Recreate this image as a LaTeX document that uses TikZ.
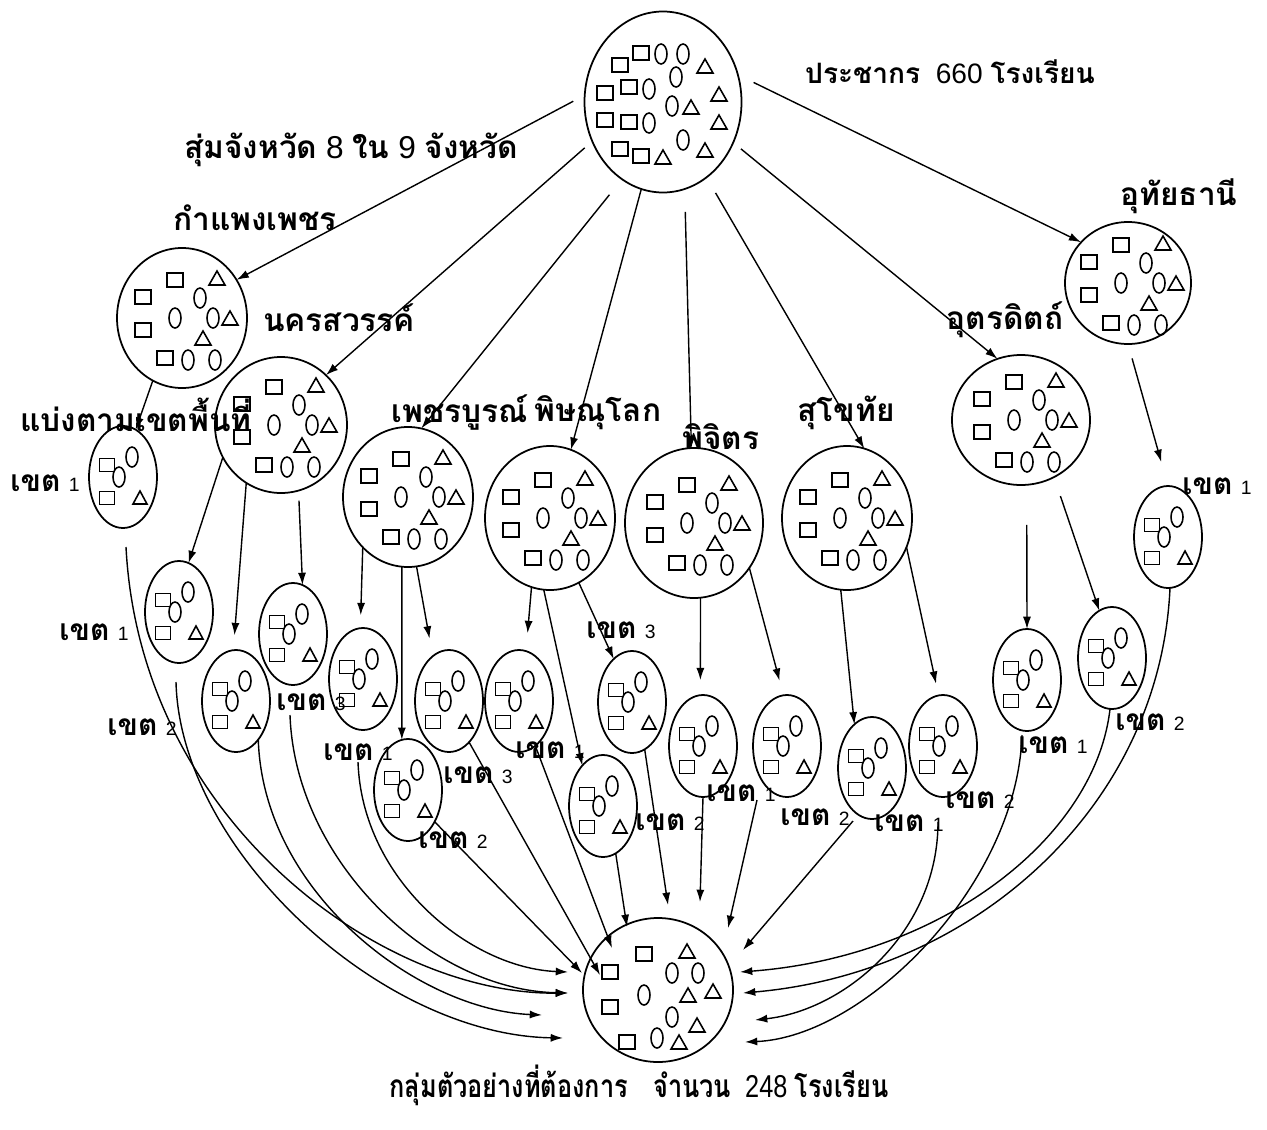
\documentclass[tikz,border=0pt]{standalone}
\usepackage{fontspec}
\setmainfont{Liberation Sans}
\newfontfamily\thai[Script=Thai]{Loma}
\usetikzlibrary{shapes.geometric,arrows.meta,calc}
\newcommand{\tb}[1]{{\thai\bfseries #1}}
\newcommand{\khet}[1]{\tb{เขต}\ {\fontsize{11}{13}\selectfont #1}}

\tikzset{
  arr/.style={-{Latex[length=7pt,width=4.6pt]}, line width=0.8pt},
  shp/.style={line width=0.9pt},
  circ/.style={ellipse, draw, line width=1pt, inner sep=0pt, outer sep=0pt},
  dims/.style 2 args={minimum width=#1*0.02cm, minimum height=#2*0.02cm},
  khetc/.style={circ, dims={68}{102}},
  lbl/.style={font=\fontsize{18}{22}\selectfont, inner sep=0pt},
  klbl/.style={font=\fontsize{17}{20}\selectfont, inner sep=0pt},
  % shapes inside the circles
  popset/.pic={
    \foreach \a/\b in {-43/-37,-22/-49,-58/-9,-34/-15,-58/18,-34/20,-43/47,-22/54}
      \draw[shp] (\a-8,\b-7) rectangle ++(16,14);
    \foreach \a/\b in {-2/-48,20/-48,13/-25,-14/-13,9/4,-14/21,20/38}
      \draw[shp] (\a,\b) ellipse [x radius=6,y radius=10];
    \foreach \a/\b in {42/-36,56/-8,28/5,56/20,0/55,42/48}
      \draw[shp] (\a-8,\b+7) -- (\a,\b-7) -- (\a+8,\b+7) -- cycle;
  },
  provset/.pic={
    \foreach \a/\b in {-7/-38,-39/-21,-39/12,-17/40}
      \draw[shp] (\a-8,\b-7) rectangle ++(16,14);
    \foreach \a/\b in {-7/0,18/-20,31/0,6/42,33/42}
      \draw[shp] (\a,\b) ellipse [x radius=6,y radius=10];
    \foreach \a/\b in {35/-40,48/0,21/20}
      \draw[shp] (\a-8,\b+7) -- (\a,\b-7) -- (\a+8,\b+7) -- cycle;
  },
  khetset/.pic={
    \foreach \a/\b in {-16/-12,-16/21}
      \draw[shp] (\a-7.5,\b-6.5) rectangle ++(15,13);
    \foreach \a/\b in {-4/0,9/-20}
      \draw[shp] (\a,\b) ellipse [x radius=6,y radius=10];
    \draw[shp] (17-7,21+6) -- (17,21-7) -- (17+7,21+6) -- cycle;
  },
  botset/.pic={
    \foreach \a/\b in {-14/-36,-48/-18,-48/17,-31/52}
      \draw[shp] (\a-8,\b-7) rectangle ++(16,14);
    \foreach \a/\b in {-14/5,14/-17,40/-17,14/27,-1/48}
      \draw[shp] (\a,\b) ellipse [x radius=6,y radius=10];
    \foreach \a/\b in {29/-39,30/5,55/1,39/35,21/52}
      \draw[shp] (\a-8,\b+7) -- (\a,\b-7) -- (\a+8,\b+7) -- cycle;
  }
}

\begin{document}
\begin{tikzpicture}[x=0.02cm,y=-0.02cm]
\useasboundingbox (0,0) rectangle (1267,1129);

% population and provinces
\node[circ, dims={157}{181}] (pop) at (663,102) {};
\node[circ, dims={130}{140}] (kpp) at (182,318) {};
\node[circ, dims={132}{136}] (nsw) at (281,425) {};
\node[circ, dims={130}{140}] (pbn) at (408,497) {};
\node[circ, dims={130}{144}] (psl) at (550,518) {};
\node[circ, dims={138}{150}] (pct) at (694,523) {};
\node[circ, dims={130}{144}] (skt) at (847,518) {};
\node[circ, dims={138}{130}] (utt) at (1021,420) {};
\node[circ, dims={126}{122}] (uty) at (1128,283) {};
\node[circ, dims={150}{144}] (bot) at (658,990) {};

% districts
\node[khetc] (kpp1) at (123,477) {};
\node[khetc] (nsw1) at (179,612) {};
\node[khetc] (nsw2) at (236,701) {};
\node[khetc] (nsw3) at (293,634) {};
\node[khetc] (pbnA) at (363,679) {};
\node[khetc] (pbnB) at (408,790) {};
\node[khetc] (pbnC) at (449,701) {};
\node[khetc] (psl1) at (519,701) {};
\node[khetc] (psl2) at (603,806) {};
\node[khetc] (psl3) at (632,702) {};
\node[khetc] (pct1) at (703,746) {};
\node[khetc] (pct2) at (787,746) {};
\node[khetc] (skt1) at (872,768) {};
\node[khetc] (skt2) at (943,746) {};
\node[khetc] (utt1) at (1027,680) {};
\node[khetc] (utt2) at (1112,658) {};
\node[khetc] (uty1) at (1168,537) {};

\pic at (pop.center) {popset};
\foreach \n in {kpp,nsw,pbn,psl,pct,skt,utt,uty}
  \pic at (\n.center) {provset};
\foreach \n in {kpp1,nsw1,nsw2,nsw3,pbnA,pbnB,pbnC,psl1,psl2,psl3,pct1,pct2,skt1,skt2,utt1,utt2,uty1}
  \pic at (\n.center) {khetset};
\pic at (bot.center) {botset};

% sampling of provinces
\draw[arr, shorten <=0.26cm] (pop.175) -- (kpp.35);
\draw[arr, shorten <=0.2cm] (pop.209) -- (nsw.48);
\draw[arr, shorten <=0.4cm] (pop.242) -- (pbn.79);
\draw[arr] (pop.256) -- (psl.73);
\draw[arr, shorten <=0.46cm] (pop.284) -- (pct.92);
\draw[arr, shorten <=0.36cm] (pop.300) -- (skt.76);
\draw[arr, shorten <=0.2cm] (pop.330) -- (utt.111);
\draw[arr, shorten <=0.35cm] (pop.20) -- (uty.139);

% provinces to districts
\draw[arr] (kpp.245) -- (kpp1.75);
\draw[arr] (nsw.209) -- (nsw1.79);
\draw[arr, shorten >=0.3cm] (nsw.239) -- (nsw2.93);
\draw[arr, shorten <=0.2cm] (nsw.285) -- (nsw3.79);
\draw[arr, shorten >=0.26cm] (pbn.228) -- (pbnA.93);
\draw[arr] (pbn.265) -- (pbnB.97);
\draw[arr, shorten >=0.36cm] (pbn.277) -- (pbnC.110);
\draw[arr, shorten >=0.36cm] (psl.255) -- (psl1.82);
\draw[arr] (psl.265) -- (psl2.117);
\draw[arr] (psl.294) -- (psl3.113);
\draw[arr, shorten >=0.3cm] (pct.275) -- (pct1.93);
\draw[arr, shorten >=0.3cm] (pct.321) -- (pct2.94);
\draw[arr] (skt.265) -- (skt1.112);
\draw[arr, shorten >=0.24cm] (skt.334) -- (skt2.95);
\draw[arr, shorten <=0.8cm] (utt.275) -- (utt1.90);
\draw[arr, shorten <=0.4cm] (utt.300) -- (utt2.105);
\draw[arr, shorten <=0.3cm, shorten >=0.5cm] (uty.270) -- (uty1.90);

% districts to the sample
\draw[arr] ($(kpp1.south)+(3,19)$) .. controls +(14,272) and +(-188,2) .. ($(bot.west)+(-15,3)$);
\draw[arr] ($(nsw1.south)+(-3,19)$) .. controls +(4,167) and +(-183,-3) .. ($(bot.west)+(-20,48)$);
\draw[arr] (nsw2.300) .. controls +(5,155) and +(-122,-5) .. ($(bot.west)+(-41,25)$);
\draw[arr] ($(nsw3.south)+(-3,30)$) .. controls +(5,145) and +(-138,-3) .. ($(bot.west)+(-15,3)$);
\draw[arr] ($(pbnA.south)+(-5,32)$) .. controls +(4,118) and +(-98,-4) .. ($(bot.west)+(-15,-18)$);
\draw[arr] (pbnB.310) -- ($(bot.west)+(-1,-17)$);
\draw[arr] (pbnC.296) -- ($(bot.west)+(17,-15)$);
\draw[arr] (psl1.290) -- ($(bot.west)+(29,-42)$);
\draw[arr] (psl2.285) -- ($(bot.west)+(44,-63)$);
\draw[arr] (psl3.285) -- ($(bot.north)+(10,-13)$);
\draw[arr] (pct1.south) -- ($(bot.north)+(42,-16)$);
\draw[arr] ($(pct2.south)+(-30,3)$) -- ($(bot.east)+(-5,-62)$);
\draw[arr] ($(skt1.south)+(-19,2)$) -- ($(bot.east)+(10,-40)$);
\draw[arr] ($(skt2.south)+(-5,25)$) .. controls +(0,110) and +(90,-10) .. ($(bot.east)+(22,30)$);
\draw[arr] ($(utt1.south)+(-5,4)$) .. controls +(-5,150) and +(120,-5) .. ($(bot.east)+(12,52)$);
\draw[arr] ($(utt2.south)+(-2,0)$) .. controls +(-15,130) and +(200,-15) .. ($(bot.east)+(7,-18)$);
\draw[arr] ($(uty1.south)+(2,0)$) .. controls +(-10,220) and +(230,-20) .. ($(bot.east)+(10,3)$);

% labels
\node[lbl, font=\fontsize{16}{20}\selectfont] (t-pop) at (950,72) {\tb{ประชากร}\ \ 660 \tb{โรงเรียน}};
\node[lbl] (t-rand) at (351,150) {\tb{สุ่มจังหวัด} 8 \tb{ใน} 9 \tb{จังหวัด}};
\node[lbl] (t-kpp) at (255,218) {\tb{กำแพงเพชร}};
\node[lbl] (t-nsw) at (339,318) {\tb{นครสวรรค์}};
\node[lbl] (t-split) at (136,415) {\tb{แบ่งตามเขตพื้นที่}};
\node[lbl] (t-pbn) at (460,413) {\tb{เพชรบูรณ์}};
\node[lbl] (t-psl) at (598,413) {\tb{พิษณุโลก}};
\node[lbl] (t-pct) at (721,437) {\tb{พิจิตร}};
\node[lbl] (t-skt) at (846,413) {\tb{สุโขทัย}};
\node[lbl] (t-utt) at (1005,320) {\tb{อุตรดิตถ์}};
\node[lbl] (t-uty) at (1179,196) {\tb{อุทัยธานี}};
\node[lbl, xscale=0.8, transform shape] (t-smp) at (639,1085)
  {\tb{กลุ่มตัวอย่างที่ต้องการ}\quad\tb{จำนวน}\ \ 248 \tb{โรงเรียน}};

\node[klbl] (k1) at (45,483) {\khet{1}};
\node[klbl] (k2) at (94,632) {\khet{1}};
\node[klbl] (k3) at (142,727) {\khet{2}};
\node[klbl] (k4) at (311,702) {\khet{3}};
\node[klbl] (k5) at (358,752) {\khet{1}};
\node[klbl] (k6) at (478,775) {\khet{3}};
\node[klbl] (k7) at (453,840) {\khet{2}};
\node[klbl] (k8) at (550,750) {\khet{1}};
\node[klbl] (k9) at (621,630) {\khet{3}};
\node[klbl] (k10) at (670,822) {\khet{2}};
\node[klbl] (k11) at (741,793) {\khet{1}};
\node[klbl] (k12) at (815,817) {\khet{2}};
\node[klbl] (k13) at (909,823) {\khet{1}};
\node[klbl] (k14) at (980,800) {\khet{2}};
\node[klbl] (k15) at (1053,745) {\khet{1}};
\node[klbl] (k16) at (1150,722) {\khet{2}};
\node[klbl] (k17) at (1217,486) {\khet{1}};
\end{tikzpicture}
\end{document}
